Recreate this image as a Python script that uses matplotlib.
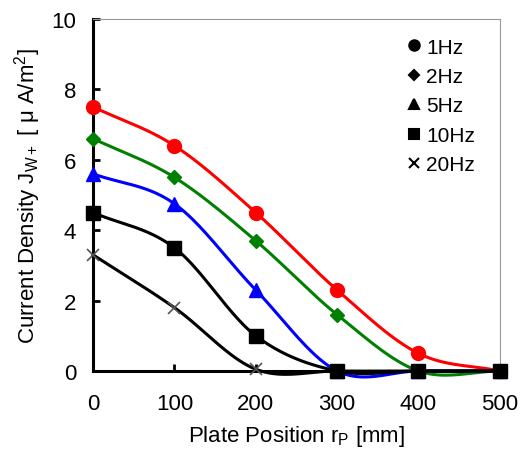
import numpy as np
import matplotlib
matplotlib.use("Agg")
import matplotlib.pyplot as plt

plt.rcParams['font.family'] = ['Liberation Sans', 'DejaVu Sans']

positions = [0, 100, 200, 300, 400, 500]
j_1hz = [7.5, 6.4, 4.5, 2.3, 0.5, 0.0]
j_2hz = [6.6, 5.5, 3.7, 1.6, 0.0, 0.0]
j_5hz = [5.6, 4.75, 2.3, 0.0, 0.0, 0.0]
j_10hz = [4.5, 3.5, 1.0, 0.0, 0.0, 0.0]
j_20hz = [3.3, 1.8, 0.05, 0.0, 0.0, 0.0]
labels = ['1Hz', '2Hz', '5Hz', '10Hz', '20Hz']


def smooth(x, y, n=40):
    # Catmull-Rom spline through the points (like Excel's smoothed line)
    x = np.asarray(x, float)
    y = np.asarray(y, float)
    px = np.concatenate([[2 * x[0] - x[1]], x, [2 * x[-1] - x[-2]]])
    py = np.concatenate([[2 * y[0] - y[1]], y, [2 * y[-1] - y[-2]]])
    xs, ys = [], []
    t = np.linspace(0, 1, n)
    for i in range(1, len(px) - 2):
        for p, out in ((px, xs), (py, ys)):
            p0, p1, p2, p3 = p[i - 1], p[i], p[i + 1], p[i + 2]
            out.append(0.5 * (2 * p1 + (-p0 + p2) * t
                              + (2 * p0 - 5 * p1 + 4 * p2 - p3) * t ** 2
                              + (-p0 + 3 * p1 - 3 * p2 + p3) * t ** 3))
    return np.concatenate(xs), np.concatenate(ys)


fig = plt.figure(figsize=(5.27, 4.52), dpi=100)
ax = fig.add_axes([0.1765, 0.177, 0.772, 0.779])

series = [
    (j_1hz, 'red', 'o', 10, 'red', 3),
    (j_2hz, 'green', 'D', 7, 'green', 3),
    (j_5hz, 'blue', '^', 10, 'blue', 3),
    (j_10hz, 'black', 's', 10, 'black', 5),
    (j_20hz, 'black', 'x', 9, '#555555', 4),
]

for (vals, col, mk, ms, mcol, z), lab in zip(series, labels):
    sx, sy = smooth(positions, vals)
    ax.plot(sx, sy, color=col, lw=2.2, zorder=z, clip_on=False)
    ax.plot(positions, vals, ls='none', marker=mk, ms=ms, color=mcol,
            mec=mcol, mew=1.2 if mk == 'x' else 1, zorder=z + 0.5, clip_on=False)

# legend with black markers
handles = []
for (vals, col, mk, ms, mcol, z), lab in zip(series, labels):
    h, = ax.plot([], [], ls='none', marker=mk, ms=ms * 0.75, color='black', mew=1.5, label=lab)
    handles.append(h)
ax.legend(handles=handles, loc='upper right', frameon=False, fontsize=15,
          handletextpad=0.1, labelspacing=0.5, handlelength=1.0,
          bbox_to_anchor=(0.985, 1.0))

ax.set_xlim(0, 500)
ax.set_ylim(0, 10)
ax.set_xticks(positions)
ax.set_yticks([0, 2, 4, 6, 8, 10])
ax.tick_params(direction='in', length=5, width=2, labelsize=16)
ax.tick_params(axis='x', pad=16)
ax.tick_params(axis='y', pad=12)

for s in ('left', 'bottom'):
    ax.spines[s].set_linewidth(2.2)
    ax.spines[s].set_color('black')
for s in ('top', 'right'):
    ax.spines[s].set_linewidth(0.8)
    ax.spines[s].set_color('#999999')

ax.set_ylabel(r'Current Density J$_{\mathregular{W+}}$ [ $\mathregular{\mu}$ A/m$^{\mathregular{2}}$]',
              fontsize=16, labelpad=6)
ax.set_xlabel(r'Plate Position r$_{\mathregular{P}}$ [mm]', fontsize=16, labelpad=6)

fig.savefig('out.png', dpi=100)
